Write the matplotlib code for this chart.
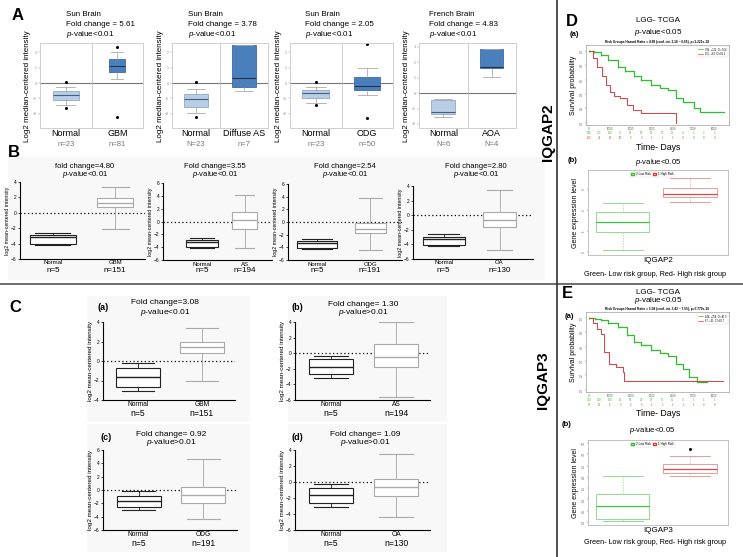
import matplotlib
matplotlib.use("Agg")
import matplotlib.pyplot as plt
from matplotlib.patches import Rectangle
from matplotlib.lines import Line2D

plt.rcParams["font.family"] = ["Liberation Sans", "DejaVu Sans"]
plt.rcParams["mathtext.fontset"] = "custom"
plt.rcParams["mathtext.rm"] = "Liberation Sans"
plt.rcParams["mathtext.it"] = "Liberation Sans:italic"

W, H = 743, 557

# ---------------- data ----------------
# box stats are [whisker low, q1, median, q3, whisker high]
a_datasets = ["Sun Brain", "Sun Brain", "Sun Brain", "French Brain"]
a_fold = ["5.61", "3.78", "2.05", "4.83"]
a_groups = [["Normal", "GBM"], ["Normal", "Diffuse AS"], ["Normal", "ODG"], ["Normal", "AOA"]]
a_counts = [["n=23", "n=81"], ["N=23", "n=7"], ["n=23", "n=50"], ["N=6", "N=4"]]
a_normal = [[-1.42, -1.10, -0.78, -0.52, -0.26], [-1.94, -1.55, -1.04, -0.71, -0.39],
            [-1.29, -0.97, -0.65, -0.45, -0.26], [-1.55, -1.36, -1.23, -0.45, -0.39]]
a_tumor = [[0.26, 0.71, 1.10, 1.55, 2.00], [-0.52, -0.26, 0.32, 2.46, 2.46],
           [-0.78, -0.45, -0.19, 0.39, 0.97], [1.03, 1.62, 1.66, 2.85, 2.85]]
a_normal_out = [[0.06, -1.62], [0.06, -2.20], [0.06, -1.42], []]
a_tumor_out = [[2.33, -2.20], [], [2.52, -2.26], []]
a_ylim = [(-2.91, 2.59), (-2.91, 2.59), (-2.91, 2.59), (-2.26, 3.24)]

b_titles = ["fold change=4.80", "Fold change=3.55", "Fold change=2.54", "Fold change=2.80"]
b_groups = [["Normal", "GBM"], ["Normal", "AS"], ["Normal", "ODG"], ["Normal", "OA"]]
b_counts = [["n=5", "n=151"], ["n=5", "n=194"], ["n=5", "n=191"], ["n=5", "n=130"]]
b_normal = [[-4.2, -4.0, -3.2, -2.9, -2.6], [-4.2, -4.0, -3.2, -2.9, -2.6],
            [-4.3, -4.1, -3.3, -3.0, -2.7], [-4.2, -4.1, -3.3, -3.0, -2.6]]
b_tumor = [[-2.1, 0.8, 1.3, 1.9, 3.3], [-4.1, -1.1, 0.2, 1.5, 4.1],
           [-4.4, -1.7, -1.1, -0.1, 3.8], [-4.7, -1.6, -0.7, 0.4, 3.5]]
b_ylim = [(-6, 4), (-6, 6), (-6, 6), (-6, 4)]
b_yticks = [[-6, -4, -2, 0, 2, 4], [-6, -4, -2, 0, 2, 4, 6], [-6, -4, -2, 0, 2, 4, 6], [-6, -4, -2, 0, 2, 4]]

c_tags = ["(a)", "(b)", "(c)", "(d)"]
c_titles = ["Fold change=3.08", "Fold change= 1.30", "Fold change= 0.92", "Fold change= 1.09"]
c_pvals = ["<0.01", ">0.01", ">0.01", ">0.01"]
c_groups = [["Normal", "GBM"], ["Normal", "AS"], ["Normal", "ODG"], ["Normal", "OA"]]
c_counts = [["n=5", "n=151"], ["n=5", "n=194"], ["n=5", "n=191"], ["n=5", "n=130"]]
c_normal = [[-3.1, -2.7, -1.65, -0.7, -0.2], [-3.2, -2.7, -1.8, -0.8, -0.4],
            [-3.0, -2.6, -1.6, -0.85, -0.15], [-3.1, -2.6, -1.6, -0.7, -0.25]]
c_tumor = [[-2.1, 0.85, 1.4, 1.95, 3.4], [-5.6, -1.8, -0.5, 1.2, 4.0],
           [-4.4, -2.0, -0.8, 0.4, 4.6], [-4.4, -1.8, -0.6, 0.4, 3.5]]
c_ylim = [(-4, 4), (-6, 4), (-6, 6), (-6, 4)]
c_yticks = [[-4, -2, 0, 2, 4], [-6, -4, -2, 0, 2, 4], [-6, -4, -2, 0, 2, 4, 6], [-6, -4, -2, 0, 2, 4]]

# Kaplan-Meier curves (days, survival probability)
d_low_t = [0, 250, 570, 900, 1380, 1700, 2140, 2500, 2950, 3400, 3760, 4140, 4500, 5000, 5330, 6480]
d_low_s = [1.0, 0.98, 0.94, 0.87, 0.78, 0.72, 0.65, 0.60, 0.53, 0.49, 0.46, 0.35, 0.29, 0.21, 0.15, 0.15]
d_high_t = [0, 200, 400, 600, 800, 1000, 1200, 1500, 1800, 2100, 2500, 4150]
d_high_s = [1.0, 0.90, 0.78, 0.65, 0.52, 0.43, 0.38, 0.34, 0.25, 0.18, 0.14, 0.0]
e_low_t = [0, 300, 570, 900, 1380, 1800, 2140, 2500, 2950, 3400, 3760, 4140, 4520, 4760, 5190, 5670]
e_low_s = [1.0, 0.99, 0.97, 0.93, 0.88, 0.76, 0.67, 0.62, 0.56, 0.51, 0.47, 0.36, 0.29, 0.18, 0.11, 0.11]
e_high_t = [0, 200, 400, 570, 710, 950, 1290, 1620, 1670, 6430]
e_high_s = [1.0, 0.93, 0.85, 0.77, 0.53, 0.36, 0.32, 0.25, 0.12, 0.12]
risk_times = [0, 500, 1000, 1500, 2000, 2500, 3000, 3500, 4000, 4500, 5000, 5500, 6000]
d_low_risk = [396, 272, 150, 73, 51, 39, 22, 17, 11, 4, 1, 2, 1]
d_high_risk = [115, 44, 19, 10, 5, 3, 1, 1, 1, 0, 0, 0, 0]
e_low_risk = [444, 258, 150, 94, 58, 32, 22, 17, 11, 4, 1, 1, 1]
e_high_risk = [67, 11, 6, 5, 2, 2, 1, 1, 1, 1, 1, 0, 0]
d_hr_text = "Risk Groups Hazard Ratio = 4.88 (conf. int. 3.16 ~ 6.65), p=1.221e-18"
e_hr_text = "Risk Groups Hazard Ratio = 5.08 (conf. int. 3.42 ~ 7.55), p=7.779e-16"

# risk-group expression boxes
d_box_low = [0.10, 0.95, 1.43, 1.90, 2.33]
d_box_high = [2.38, 2.62, 2.76, 3.05, 3.52]
e_box_low = [0.04, 0.13, 0.71, 1.24, 2.04]
e_box_high = [2.04, 2.17, 2.35, 2.57, 2.92]
e_high_out = [3.24]

fig = plt.figure(figsize=(W / 100, H / 100), dpi=100)
boxes = {}


def place(x0, y0, x1, y1):
    ax = fig.add_axes([x0 / W, 1 - y1 / H, (x1 - x0) / W, (y1 - y0) / H])
    boxes[ax] = (x0, y0, x1, y1)
    return ax


def under(ax, xd, ypx, s, **kw):
    x0, y0, x1, y1 = boxes[ax]
    ax.text(xd, (y1 - ypx) / (y1 - y0), s, transform=ax.get_xaxis_transform(),
            ha="center", va="center", clip_on=False, **kw)


def ftext(x, y, s, **kw):
    kw.setdefault("va", "center")
    fig.text(x / W, 1 - y / H, s, **kw)


def stats(v, out=()):
    return dict(whislo=v[0], q1=v[1], med=v[2], q3=v[3], whishi=v[4], fliers=list(out))


def draw_box(ax, v, pos, width, face, edge, med, whisk, cap, out=(), wls="-", lw=0.8):
    ax.bxp([stats(v, out)], positions=[pos], widths=[width], patch_artist=True,
           capwidths=[width * 0.75], manage_ticks=False,
           boxprops=dict(facecolor=face, edgecolor=edge, linewidth=lw),
           medianprops=dict(color=med, linewidth=lw + 0.2),
           whiskerprops=dict(color=whisk, linewidth=lw * 0.8, linestyle=wls),
           capprops=dict(color=cap, linewidth=lw),
           flierprops=dict(marker="o", markersize=1.2, markerfacecolor="k", markeredgecolor="k"))


# ---------------- frame lines ----------------
fig.add_artist(Line2D([0, 1], [1 - 284 / H] * 2, color="#555555", lw=1.2))
fig.add_artist(Line2D([557 / W] * 2, [0, 1], color="#333333", lw=1.2))

# light panels behind B and C plots
for (x0, y0, x1, y1) in [(8, 157, 152, 280), (152, 157, 282, 280), (282, 157, 408, 280), (408, 157, 545, 280),
                         (87, 296, 250, 422), (288, 296, 447, 422), (87, 424, 250, 552), (288, 424, 447, 552)]:
    fig.add_artist(Rectangle((x0 / W, 1 - y1 / H), (x1 - x0) / W, (y1 - y0) / H,
                             facecolor="#f8f8f8", edgecolor="none", zorder=-5))

# ---------------- panel A ----------------
ftext(18, 16, "A", fontsize=12, fontweight="bold", ha="center")
a_px = [(40, 143), (172, 268), (290, 393), (419, 516)]
a_title_x = [66, 188, 305, 429]
a_widths = [(0.5, 0.32), (0.5, 0.5), (0.52, 0.5), (0.5, 0.48)]
for i in range(4):
    x0, x1 = a_px[i]
    ax = place(x0, 43, x1, 128)
    ax.set_xlim(0.5, 2.5)
    ax.set_ylim(*a_ylim[i])
    ax.axhline(0, color="#777777", lw=0.8, zorder=0)
    ax.axvline(1.5, color="#bbbbbb", lw=0.5, zorder=0)
    wn, wt = a_widths[i]
    draw_box(ax, a_normal[i], 1, wn, "#b9cde5", "#8fa9c8", "#44607f", "#999999", "#aaaaaa", a_normal_out[i], lw=0.6)
    draw_box(ax, a_tumor[i], 2, wt, "#4b7fbc", "#3c6ba3", "#1d3553", "#999999", "#aaaaaa", a_tumor_out[i], lw=0.6)
    ax.set_xticks([])
    ax.tick_params(axis="y", labelsize=2.5, length=1.5, width=0.3, colors="#888888", pad=1)
    for s in ax.spines.values():
        s.set_color("#c8c8c8")
        s.set_linewidth(0.6)
    for j in range(2):
        under(ax, j + 1, 133, a_groups[i][j], fontsize=6.5)
        under(ax, j + 1, 145, a_counts[i][j], fontsize=5.5, color="#777777")
    ftext(x0 - 12, 86, "Log2 median-centered intensity", fontsize=5.8, rotation=90, ha="center")
    tx = a_title_x[i]
    ftext(tx, 15, a_datasets[i], fontsize=5.8)
    ftext(tx, 25, "Fold change = " + a_fold[i], fontsize=5.8)
    ftext(tx, 35, "$p$-value<0.01", fontsize=5.8)


def mean_centered(ax, normal, tumor, ylim, yticks, groups, counts, wn, wt, lab_y, n_y, lab_fs, n_fs, ylab_fs):
    ax.set_facecolor("none")
    ax.set_ylim(*ylim)
    ax.set_yticks(yticks)
    ax.axhline(0, color="k", lw=0.9, ls=(0, (1, 2)), zorder=0)
    draw_box(ax, normal, 1, wn, "white", "#222222", "#222222", "#222222", "#222222")
    draw_box(ax, tumor, 2, wt, "white", "#aaaaaa", "#aaaaaa", "#aaaaaa", "#aaaaaa")
    ax.set_xticks([])
    for side in ["top", "right"]:
        ax.spines[side].set_visible(False)
    for side in ["left", "bottom"]:
        ax.spines[side].set_linewidth(0.8)
    ax.tick_params(axis="y", labelsize=3.5, length=1.5, width=0.5, pad=1)
    ax.set_ylabel("log2 mean-centered intensity", fontsize=ylab_fs, labelpad=1)
    for j in range(2):
        under(ax, j + 1, lab_y, groups[j], fontsize=lab_fs)
        under(ax, j + 1, n_y, counts[j], fontsize=n_fs)


# ---------------- panel B ----------------
ftext(14, 152, "B", fontsize=12, fontweight="bold", ha="center")
b_px = [(20, 182, 145, 259), (163, 183, 272, 260), (288, 184, 402, 260), (413, 186, 533, 259)]
b_title_x = [85, 215, 345, 476]
b_xlim = [(0.47, 2.48), (0.1, 2.63), (0.45, 2.6), (0.45, 2.6)]
for i in range(4):
    ax = place(*b_px[i])
    ax.set_xlim(*b_xlim[i])
    mean_centered(ax, b_normal[i], b_tumor[i], b_ylim[i], b_yticks[i], b_groups[i], b_counts[i],
                  0.75, 0.58, b_px[i][3] + 4, b_px[i][3] + 11, 4.3, 5.8, 3.8)
    ftext(b_title_x[i], 166, b_titles[i], fontsize=5.5, ha="center")
    ftext(b_title_x[i], 175, "$p$-value<0.01", fontsize=5.5, ha="center")

# ---------------- panel C ----------------
ftext(15, 307, "C", fontsize=12, fontweight="bold", ha="center")
c_px = [(103, 322, 235, 400), (295, 322, 430, 400), (103, 450, 237, 530), (295, 450, 430, 530)]
c_title_x = [165, 363, 171, 365]
c_title_y = [303, 304, 434, 434]
c_tag_x = [103, 297, 106, 297]
for i in range(4):
    ax = place(*c_px[i])
    ax.set_xlim(0.45, 2.52)
    mean_centered(ax, c_normal[i], c_tumor[i], c_ylim[i], c_yticks[i], c_groups[i], c_counts[i],
                  0.68, 0.68, c_px[i][3] + 5, c_px[i][3] + 13, 4.8, 6.2, 4.5)
    ftext(c_tag_x[i], c_title_y[i] + 4, c_tags[i], fontsize=6.5, fontweight="bold", ha="center")
    ftext(c_title_x[i], c_title_y[i], c_titles[i], fontsize=6, ha="center")
    ftext(c_title_x[i], c_title_y[i] + 9, "$p$-value" + c_pvals[i], fontsize=6, ha="center")

# ---------------- panels D / E ----------------
ftext(548, 132, "IQGAP2", fontsize=11, fontweight="bold", rotation=90, ha="center")
ftext(543, 380, "IQGAP3", fontsize=11, fontweight="bold", rotation=90, ha="center")
GREEN, RED = "#2fbf2f", "#e23b3b"


def km_panel(top, low_t, low_s, high_t, high_s, low_risk, high_risk, hr_text, low_leg, high_leg):
    ax = place(586, top, 729, top + 80)
    ax.set_xlim(-150, 6700)
    ax.set_ylim(-0.03, 1.083)
    ax.step(low_t, low_s, where="post", color=GREEN, lw=0.9)
    ax.step(high_t, high_s, where="post", color=RED, lw=0.7)
    ax.plot(low_t[:9], low_s[:9], "|", color=GREEN, ms=1.6, mew=0.6)
    ax.set_xticks(range(0, 6001, 1000))
    ax.set_yticks([0, 0.2, 0.4, 0.6, 0.8, 1.0])
    ax.tick_params(labelsize=2.0, length=1, width=0.3, pad=0.4, colors="#555555")
    plt.setp(ax.get_yticklabels(), rotation=90, va="center")
    for s in ax.spines.values():
        s.set_linewidth(0.4)
        s.set_color("#888888")
    ax.set_ylabel("Survival probability", fontsize=5, labelpad=2)
    for t, a, b in zip(risk_times, low_risk, high_risk):
        under(ax, t, top + 88, str(a), fontsize=2.0, color=GREEN)
        under(ax, t, top + 93, str(b), fontsize=2.0, color=RED)
    ftext(657, top - 3, hr_text, fontsize=2.3, fontweight="bold", ha="center")
    leg = ax.legend([Line2D([], [], color=GREEN, lw=0.5), Line2D([], [], color=RED, lw=0.5)],
                    [low_leg, high_leg], loc="upper right", fontsize=1.8, frameon=True,
                    handlelength=2, borderpad=0.4, labelspacing=0.3, fancybox=False)
    leg.get_frame().set_linewidth(0.3)
    return ax


def risk_box(top, bottom, ylim, yticks, low, high, high_out):
    ax = place(588, top, 728, bottom)
    ax.set_xlim(0.48, 2.57)
    ax.set_ylim(*ylim)
    ax.set_yticks(yticks)
    draw_box(ax, low, 1, 0.79, "white", "#8fdc8f", "#3cc23c", "#9fe09f", "#8fdc8f", wls=(0, (2, 1.5)), lw=0.7)
    draw_box(ax, high, 2, 0.80, "white", "#ee9a9a", "#d94a4a", "#f0a8a8", "#ee9a9a", high_out, wls=(0, (2, 1.5)), lw=0.7)
    ax.set_xticks([])
    ax.tick_params(labelsize=2.2, length=1, width=0.3, pad=0.5, colors="#555555")
    plt.setp(ax.get_yticklabels(), rotation=90, va="center")
    for s in ax.spines.values():
        s.set_linewidth(0.5)
        s.set_color("#aaaaaa")
    ax.set_ylabel("Gene expression level", fontsize=5, labelpad=2)
    leg = ax.legend([Rectangle((0, 0), 1, 1, fc="white", ec=GREEN), Rectangle((0, 0), 1, 1, fc="white", ec=RED)],
                    ["2-Low Risk", "1-High Risk"], loc="upper center", ncol=2, fontsize=2.2,
                    handlelength=0.8, handleheight=0.6, borderpad=0.3, columnspacing=0.8,
                    fancybox=False, bbox_to_anchor=(0.46, 1.0))
    leg.get_frame().set_linewidth(0.3)
    return ax


# D
ftext(572, 22, "D", fontsize=12, fontweight="bold", ha="center")
ftext(574, 34, "(a)", fontsize=5.5, fontweight="bold", ha="center")
ftext(658, 21, "LGG- TCGA", fontsize=5.8, ha="center")
ftext(658, 32, "$p$-value<0.05", fontsize=5.8, ha="center")
km_panel(45, d_low_t, d_low_s, d_high_t, d_high_s, d_low_risk, d_high_risk, d_hr_text,
         "396, +222, CI=74.6", "115, +84, CI=81.1")
ftext(658, 148, "Time- Days", fontsize=6.3, ha="center")
ftext(573, 160, "(b)", fontsize=5.5, fontweight="bold", ha="center")
ftext(658, 163, "$p$-value<0.05", fontsize=5.5, ha="center")
risk_box(170, 255, (-0.14, 3.9), [0, 1, 2, 3], d_box_low, d_box_high, [])
ftext(658, 261, "IQGAP2", fontsize=5.8, ha="center")
ftext(655, 274, "Green- Low risk group, Red- High risk group", fontsize=5.2, ha="center")

# E
ftext(567, 293, "E", fontsize=12, fontweight="bold", ha="center")
ftext(569, 317, "(a)", fontsize=5.5, fontweight="bold", ha="center")
ftext(658, 292, "LGG- TCGA", fontsize=5.8, ha="center")
ftext(658, 300, "$p$-value<0.05", fontsize=5.8, ha="center")
km_panel(312, e_low_t, e_low_s, e_high_t, e_high_s, e_low_risk, e_high_risk, e_hr_text,
         "444, +258, CI=81.5", "67, +31, CI=40.7")
ftext(658, 414, "Time- Days", fontsize=6.3, ha="center")
ftext(567, 424, "(b)", fontsize=5.5, fontweight="bold", ha="center")
ftext(652, 431, "$p$-value<0.05", fontsize=5.5, ha="center")
risk_box(440, 525, (-0.13, 3.63), [0, 0.5, 1, 1.5, 2, 2.5, 3, 3.5], e_box_low, e_box_high, e_high_out)
ftext(658, 530, "IQGAP3", fontsize=5.8, ha="center")
ftext(655, 543, "Green- Low risk group, Red- High risk group", fontsize=5.2, ha="center")

fig.savefig("out.png", dpi=100)
